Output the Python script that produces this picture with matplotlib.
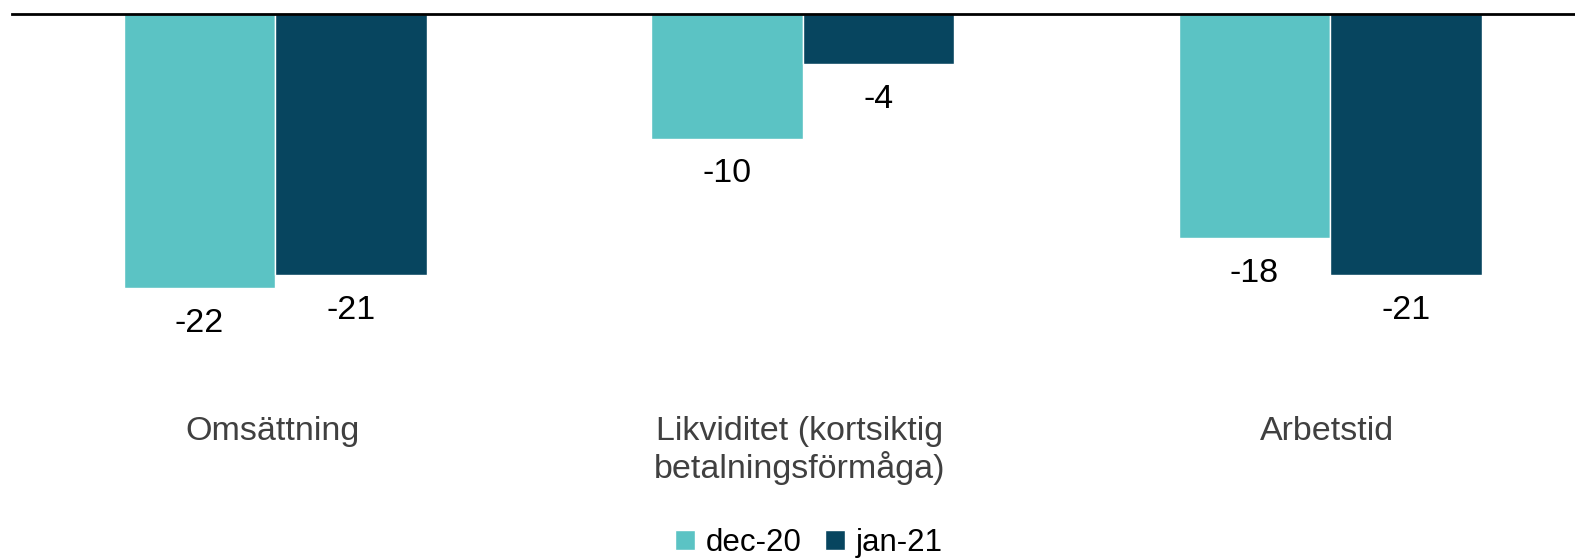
import matplotlib.pyplot as plt
import numpy as np

categories = ['Omsättning', 'Likviditet (kortsiktig\nbetalningsförmåga)', 'Arbetstid']
series_names = ['dec-20', 'jan-21']
dec_20 = [-22, -10, -18]
jan_21 = [-21, -4, -21]
colors = ['#5BC3C4', '#07455F']

plt.rcParams['font.family'] = ['Liberation Sans', 'DejaVu Sans']

W, H = 1575, 559
group_px = 527.5   # pixel width of one category slot
unit_px = 12.45    # pixels per unit on the y axis

fig = plt.figure(figsize=(W / 100, H / 100), dpi=100)
# axes start near the left edge and run past the right edge, top at y=14px
ax = fig.add_axes([11.5 / W, 0, 3 * group_px / W, 1 - 14 / H])

x = np.arange(len(categories))
width = 151.5 / group_px
for i, (name, vals) in enumerate(zip(series_names, [dec_20, jan_21])):
    offset = (i - 0.5) * width
    bars = ax.bar(x + offset, vals, width, color=colors[i], label=name,
                  edgecolor='white', linewidth=1)
    for rect, v in zip(bars, vals):
        ax.annotate(f'{v}', (rect.get_x() + rect.get_width() / 2, v),
                    xytext=(0, -25.5), textcoords='offset points',
                    ha='center', va='center', fontsize=24.5, color='black')

ax.set_xlim(-0.5, 2.5)
ax.set_ylim(-(H - 14) / unit_px, 0)
ax.axhline(0, color='black', linewidth=2, clip_on=False)
for s in ax.spines.values():
    s.set_visible(False)
ax.set_xticks([])
ax.set_yticks([])

for xi, cat in zip(x, categories):
    ax.text(xi - 3 / group_px, -402 / unit_px, cat, ha='center', va='top',
            fontsize=24.5, color='#404040', linespacing=1.13)

fig.legend(loc='center', bbox_to_anchor=(809 / W, 1 - 543 / H),
           ncol=2, frameon=False, fontsize=22.5, handlelength=0.62,
           handleheight=0.62, handletextpad=0.36, columnspacing=0.75,
           borderpad=0)

fig.savefig('out.png', dpi=100)
